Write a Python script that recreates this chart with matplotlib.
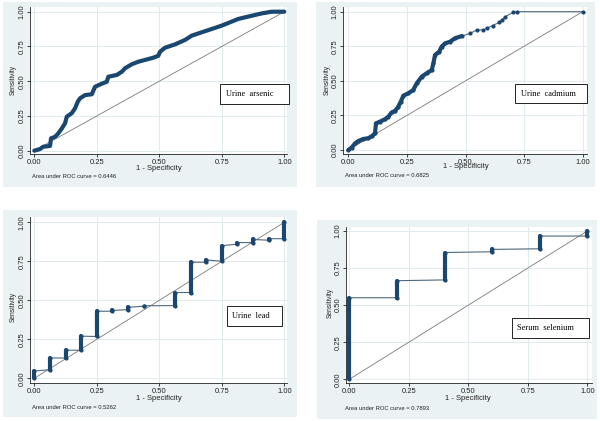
import matplotlib
matplotlib.use("Agg")
import matplotlib.pyplot as plt
from matplotlib.patches import Rectangle

# ---------------- data ----------------
ticks = [0.0, 0.25, 0.5, 0.75, 1.0]
tick_labels = ["0.00", "0.25", "0.50", "0.75", "1.00"]
ref_line = [0.0, 1.0]

titles = ["Urine arsenic", "Urine cadmium", "Urine lead", "Serum selenium"]
auc_values = ["0.6446", "0.6825", "0.5262", "0.7893"]

ars_fpr = [0, 0.023, 0.036, 0.063, 0.067, 0.083, 0.096, 0.11, 0.123, 0.13, 0.15, 0.163,
           0.174, 0.183, 0.203, 0.23, 0.243, 0.27, 0.29, 0.296, 0.33, 0.35, 0.363, 0.39,
           0.416, 0.443, 0.476, 0.496, 0.503, 0.523, 0.563, 0.603, 0.63, 0.67, 0.71, 0.75,
           0.783, 0.816, 0.87, 0.91, 0.95, 1.0]
ars_tpr = [0, 0.012, 0.029, 0.034, 0.089, 0.10, 0.125, 0.16, 0.197, 0.245, 0.27, 0.305,
           0.353, 0.377, 0.40, 0.406, 0.46, 0.482, 0.496, 0.532, 0.545, 0.568, 0.593, 0.622,
           0.64, 0.653, 0.669, 0.683, 0.712, 0.741, 0.765, 0.797, 0.828, 0.852, 0.876, 0.90,
           0.924, 0.948, 0.971, 0.988, 1.0, 1.0]

cad_fpr = [0, 0.014, 0.029, 0.043, 0.064, 0.085, 0.10, 0.114, 0.118, 0.135, 0.157, 0.171,
           0.185, 0.199, 0.213, 0.224, 0.235, 0.256, 0.277, 0.292, 0.313, 0.334, 0.356,
           0.363, 0.37, 0.388, 0.398, 0.413, 0.434, 0.455, 0.484, 0.52, 0.548, 0.576, 0.59,
           0.616, 0.644, 0.655, 0.669, 0.704, 0.72, 1.0]
cad_tpr = [0, 0.017, 0.048, 0.065, 0.08, 0.085, 0.10, 0.12, 0.193, 0.205, 0.223, 0.241,
           0.272, 0.282, 0.313, 0.35, 0.393, 0.41, 0.434, 0.482, 0.53, 0.555, 0.578,
           0.627, 0.687, 0.711, 0.747, 0.771, 0.783, 0.808, 0.824, 0.843, 0.868, 0.868, 0.88,
           0.90, 0.923, 0.94, 0.964, 0.995, 1.0, 1.0]
cad_dense_end = 31  # points drawn as a dense band

lead_fpr = [0, 0.0625, 0.125, 0.1875, 0.25, 0.3125, 0.375, 0.4375, 0.5625, 0.625,
            0.6875, 0.75, 0.8125, 0.875, 0.9375, 1.0]
lead_lo = [0.0, 0.055, 0.13, 0.18, 0.268, 0.43, 0.44, 0.462, 0.466, 0.55, 0.744, 0.75,
           0.86, 0.87, 0.885, 0.895]
lead_hi = [0.047, 0.13, 0.18, 0.27, 0.43, 0.435, 0.455, 0.465, 0.55, 0.744, 0.759, 0.85,
           0.87, 0.89, 0.895, 1.0]

sel_fpr = [0, 0.2, 0.4, 0.6, 0.8, 1.0]
sel_lo = [0.0, 0.55, 0.67, 0.86, 0.88, 0.966]
sel_hi = [0.55, 0.665, 0.855, 0.876, 0.966, 1.0]

# ---------------- style / layout ----------------
W, H = 600, 421
NAVY = "#1a476f"
THIN = "#50687c"
BG = "#eaf2f3"
GRID = "#e1eaed"
DARK = "#222222"
SANS = ["Liberation Sans", "DejaVu Sans"]
SERIF = ["Liberation Serif", "DejaVu Serif"]

# outer graph regions (px): x0, y0, x1, y1
outer = [(2.7, 1.7, 297, 187.3), (316, 1.7, 595, 187.3),
         (2.7, 210, 297, 416.7), (316.5, 220, 597, 419)]
# plot regions (px): left, top, right, bottom ; data mapping x0,x1,y0,y1
panels = [
    dict(reg=(30, 7.3, 287, 154), x0=34.3, x1=284.3, y0=150.7, y1=11.7,
         ylab=(13.3, 80), xlab_y=168, auc=(31.7, 176.7), box=(0.743, 0.336, 1.02, 0.48), tx=0.766),
    dict(reg=(343, 7, 587, 154), x0=348.3, x1=582.7, y0=150, y1=11.7,
         ylab=(327.3, 80), xlab_y=166.7, auc=(345, 175.5), box=(0.711, 0.338, 1.02, 0.475), tx=0.736),
    dict(reg=(30, 217, 287, 383), x0=34.3, x1=284.3, y0=378.3, y1=222.3,
         ylab=(13.3, 306.7), xlab_y=399, auc=(31.7, 407.7), box=(0.772, 0.337, 0.99, 0.463), tx=0.79),
    dict(reg=(345.7, 227, 592, 383.3), x0=349.3, x1=587.3, y0=379.3, y1=231,
         ylab=(330.7, 303.3), xlab_y=399, auc=(345, 408.8), box=(0.683, 0.276, 1.008, 0.411), tx=0.704),
]

fig = plt.figure(figsize=(6, 4.21), dpi=100, facecolor="white")

for (x0, y0, x1, y1) in outer:
    fig.patches.append(Rectangle((x0 / W, 1 - y1 / H), (x1 - x0) / W, (y1 - y0) / H,
                                 transform=fig.transFigure, facecolor=BG,
                                 edgecolor="none", zorder=-10))

axes = []
for i, p in enumerate(panels):
    l, t, r, b = p["reg"]
    ax = fig.add_axes([l / W, 1 - b / H, (r - l) / W, (b - t) / H])
    ax.set_zorder(1)
    ax.set_facecolor("white")
    ux = p["x1"] - p["x0"]
    uy = p["y0"] - p["y1"]
    ax.set_xlim((l - p["x0"]) / ux, (r - p["x0"]) / ux)
    ax.set_ylim((p["y0"] - b) / uy, (p["y0"] - t) / uy)
    for s in ["top", "right"]:
        ax.spines[s].set_visible(False)
    for s in ["left", "bottom"]:
        ax.spines[s].set_color(DARK)
        ax.spines[s].set_linewidth(0.6)
    ax.set_xticks(ticks)
    ax.set_xticklabels(tick_labels, fontsize=5.5, family=SANS, color=DARK)
    ax.set_yticks(ticks)
    ax.set_yticklabels(tick_labels, fontsize=5.5, family=SANS, color=DARK,
                       rotation=90, va="center")
    ax.tick_params(axis="both", direction="out", length=2.2, width=0.6, color=DARK)
    ax.tick_params(axis="x", pad=1.3)
    ax.tick_params(axis="y", pad=0.8)
    ax.grid(True, color=GRID, linewidth=0.7)
    ax.set_axisbelow(True)
    ax.plot(ref_line, ref_line, color="#7a7a7a", linewidth=0.6, zorder=2)

    # box label
    bx0, by0, bx1, by1 = p["box"]
    ax.add_patch(Rectangle((bx0, by0), bx1 - bx0, by1 - by0, facecolor="white",
                           edgecolor="black", linewidth=0.6, zorder=5, clip_on=False))
    ax.text(p["tx"], (by0 + by1) / 2, titles[i].replace(" ", "  "), family=SERIF,
            fontsize=6, va="center", ha="left", zorder=6, color="black")

    # labels
    fig.text(p["ylab"][0] / W, 1 - p["ylab"][1] / H, "Sensitivity", rotation=90,
             ha="center", va="center", fontsize=4.8, family=SANS, color=DARK, zorder=3)
    xc = p["x0"] + 0.5 * ux
    fig.text(xc / W, 1 - p["xlab_y"] / H, "1 - Specificity", ha="center", va="center",
             fontsize=5.5, family=SANS, color=DARK, zorder=3)
    fig.text(p["auc"][0] / W, 1 - p["auc"][1] / H,
             "Area under ROC curve = " + auc_values[i], ha="left", va="center",
             fontsize=4.2, family=SANS, color=DARK, zorder=3)
    axes.append(ax)

# arsenic
ax = axes[0]
ax.plot(ars_fpr, ars_tpr, color=NAVY, linewidth=3.0, solid_capstyle="round",
        solid_joinstyle="round", zorder=3)

# cadmium
ax = axes[1]
ax.plot(cad_fpr, cad_tpr, color=THIN, linewidth=0.8, zorder=3)
ax.plot(cad_fpr[:cad_dense_end], cad_tpr[:cad_dense_end], color=NAVY, linewidth=3.0,
        solid_capstyle="round", solid_joinstyle="round", zorder=3)
ax.plot(cad_fpr, cad_tpr, linestyle="none", marker="o", markersize=3.0,
        color=NAVY, markeredgewidth=0, zorder=4)


def step_groups(ax, fpr, lo, hi):
    xs, ys = [], []
    for x, a, c in zip(fpr, lo, hi):
        xs += [x, x]
        ys += [a, c]
    ax.plot(xs, ys, color=THIN, linewidth=0.8, zorder=3)
    ax.vlines(fpr, lo, hi, color=NAVY, linewidth=3.0, capstyle="round", zorder=4)
    ax.plot(fpr, lo, linestyle="none", marker="o", markersize=3.0, color=NAVY,
            markeredgewidth=0, zorder=4)
    ax.plot(fpr, hi, linestyle="none", marker="o", markersize=3.0, color=NAVY,
            markeredgewidth=0, zorder=4)


step_groups(axes[2], lead_fpr, lead_lo, lead_hi)
step_groups(axes[3], sel_fpr, sel_lo, sel_hi)

fig.savefig("out.png", dpi=100, facecolor="white")
